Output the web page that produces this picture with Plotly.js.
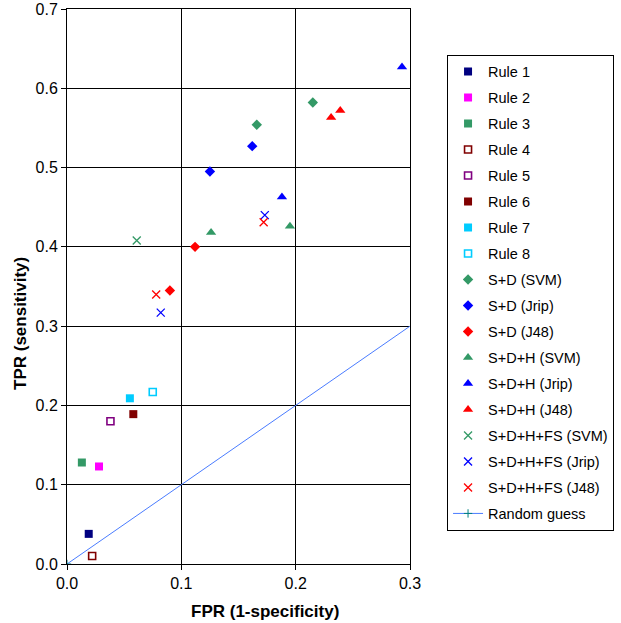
<!DOCTYPE html>
<html><head><meta charset="utf-8">
<script src="https://cdn.plot.ly/plotly-3.0.1.min.js"></script>
<style>body{margin:0;background:#fff}#c{width:621px;height:623px}</style>
</head><body><div id="c"></div>
<script>
// Series names
const names = ["Rule 1","Rule 2","Rule 3","Rule 4","Rule 5","Rule 6","Rule 7","Rule 8",
  "S+D (SVM)","S+D (Jrip)","S+D (J48)",
  "S+D+H (SVM)","S+D+H (Jrip)","S+D+H (J48)",
  "S+D+H+FS (SVM)","S+D+H+FS (Jrip)","S+D+H+FS (J48)"];
// FPR values per series
const fpr = [
  [0.019],[0.028],[0.013],[0.022],[0.038],[0.058],[0.055],[0.075],
  [0.166,0.215],[0.125,0.162],[0.090,0.112],
  [0.126,0.195],[0.188,0.293],[0.231,0.239],
  [0.061],[0.082,0.173],[0.078,0.172]
];
// TPR values per series
const tpr = [
  [0.038],[0.123],[0.128],[0.010],[0.180],[0.189],[0.209],[0.217],
  [0.554,0.582],[0.495,0.527],[0.345,0.400],
  [0.418,0.426],[0.463,0.627],[0.563,0.572],
  [0.408],[0.317,0.440],[0.340,0.431]
];
const randX = [0, 1];
const randY = [0, 1];
const xTitle = "FPR (1-specificity)";
const yTitle = "TPR (sensitivity)";

const colors = ["#000080","#FF00FF","#339966","#800000","#800080","#800000","#00CCFF","#00CCFF",
  "#339966","#0000FF","#FF0000","#339966","#0000FF","#FF0000","#339966","#0000FF","#FF0000"];
const symbols = ["square","square","square","square-open","square-open","square","square","square-open",
  "diamond","diamond","diamond","triangle-up","triangle-up","triangle-up",
  "x-thin-open","x-thin-open","x-thin-open"];

const traces = names.map((n,i)=>{
  const sym = symbols[i];
  let size = 8, lw = 0;
  if (sym==="square-open") { size = 7; lw = 1.6; }
  if (sym==="diamond") size = 8;
  if (sym==="triangle-up") size = 9;
  if (sym==="x-thin-open") { size = 8; lw = 1.3; }
  return {x: fpr[i], y: tpr[i], name: n, type: "scatter", mode: "markers",
    legendgroup: "g"+i, cliponaxis: false,
    marker: {symbol: sym, size: size, color: colors[i], line: {color: colors[i], width: lw}}};
});
traces.push({x: randX, y: randY, name: "Random guess", type: "scatter", mode: "lines+markers",
  legendgroup: "rg", cliponaxis: true,
  line: {color: "#4A7CFF", width: 1},
  marker: {symbol: "cross-thin-open", size: 6, color: "#008080", line: {color: "#008080", width: 1}}});

const font = {family: "Liberation Sans, Arial, sans-serif", color: "#000"};
const layout = {
  width: 621, height: 623,
  margin: {l: 67, r: 211, t: 9, b: 59, autoexpand: false},
  paper_bgcolor: "#fff", plot_bgcolor: "#fff",
  font: Object.assign({size: 14.5}, font),
  showlegend: true,
  legend: {x: 1.108, xanchor: "left", y: 0.918, yanchor: "top",
    bordercolor: "#000", borderwidth: 1, bgcolor: "#fff",
    font: Object.assign({size: 14.5}, font), tracegroupgap: 4.15, traceorder: "grouped"},
  xaxis: {range: [0, 0.3], dtick: 0.1, tick0: 0, tickformat: ".1f",
    showgrid: true, gridcolor: "#000", gridwidth: 1, zeroline: false,
    showline: true, linecolor: "#000", linewidth: 1, mirror: true,
    ticks: "outside", ticklen: 5, tickcolor: "#000", automargin: false,
    tickfont: Object.assign({size: 16}, font)},
  yaxis: {range: [0, 0.7], dtick: 0.1, tick0: 0, tickformat: ".1f",
    showgrid: true, gridcolor: "#000", gridwidth: 1, zeroline: false,
    showline: true, linecolor: "#000", linewidth: 1, mirror: true,
    ticks: "outside", ticklen: 5, tickcolor: "#000", automargin: false,
    tickfont: Object.assign({size: 16}, font)},
  annotations: [
    {text: "<b>"+xTitle+"</b>", xref: "paper", yref: "paper", x: (265-67)/343, y: -(611-564)/555,
     xanchor: "center", yanchor: "middle", showarrow: false, font: Object.assign({size: 17}, font)},
    {text: "<b>"+yTitle+"</b>", xref: "paper", yref: "paper", x: -(67-20)/343, y: (564-324)/555,
     xanchor: "center", yanchor: "middle", textangle: -90, showarrow: false, font: Object.assign({size: 17}, font)}
  ]
};
Plotly.newPlot("c", traces, layout, {displayModeBar: false, staticPlot: true});
</script></body></html>
